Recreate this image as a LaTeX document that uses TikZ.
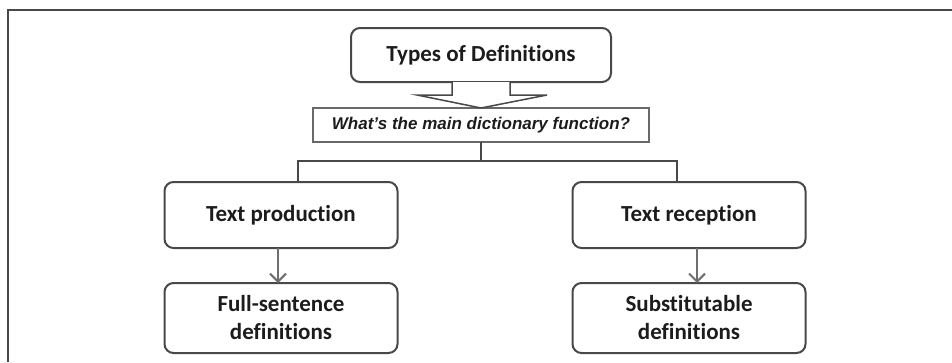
\documentclass[tikz,border=0pt]{standalone}
\usepackage{xcolor}
\usepackage{tikz}
\usepackage{fontspec}
\setmainfont[Ligatures=NoCommon]{Carlito}
\newfontfamily\askfont{Liberation Sans}
\definecolor{linegray}{RGB}{72,72,72}
\definecolor{arrowgray}{RGB}{110,110,110}
\definecolor{askgray}{RGB}{105,105,105}
\definecolor{textblack}{RGB}{28,28,28}
\usetikzlibrary{arrows.meta,positioning,calc}

\begin{document}
\begin{tikzpicture}[
    x=1pt, y=1pt,
    topbox/.style={rectangle, draw=linegray, line width=2pt, rounded corners=9pt, minimum width=260pt, minimum height=54pt, outer sep=0pt, text=textblack, font=\fontsize{23}{28}\selectfont\bfseries},
    askbox/.style={rectangle, draw=askgray, line width=1.3pt, minimum width=336pt, minimum height=34pt, outer sep=0pt, text=textblack, font=\askfont\fontsize{17}{20}\selectfont\bfseries\itshape},
    levelbox/.style={rectangle, draw=linegray, line width=2pt, rounded corners=9pt, minimum width=233pt, minimum height=66pt, outer sep=0pt, text=textblack, align=center, font=\fontsize{23}{28}\selectfont\bfseries},
    defbox/.style={levelbox, minimum height=70pt},
    hollow/.style={draw=linegray, line width=1.5pt, fill=white},
    link/.style={draw=linegray, line width=2pt},
    arrow/.style={-{Straight Barb[length=8pt,width=16pt]}, draw=arrowgray, line width=2pt},
    frame/.style={draw=linegray, line width=2.2pt}
]

\useasboundingbox (0,0) rectangle (952,-362);
\draw[frame] (8,-362) -- (8,-10) -- (952,-10);

\node[topbox] (types) at (481,-55) {Types of Definitions};
\node[askbox, below=26pt of types] (question) {What’s the main dictionary function?};

\node[levelbox, below=40pt of question, xshift=-200pt] (prod) {Text production};
\node[levelbox, below=40pt of question, xshift=208pt] (recep) {Text reception};

\node[defbox, below=35pt of prod] (full) {Full-sentence\\definitions};
\node[defbox, below=35pt of recep] (subst) {Substitutable\\definitions};

% big hollow arrow
\draw[hollow] ([xshift=-29pt]types.south) |- ([xshift=-64pt,yshift=13pt]question.north)
    -- (question.north) -- ([xshift=66pt,yshift=13pt]question.north) -| ([xshift=29pt]types.south);

\coordinate[below=19pt of question] (split);
\draw[link] (question.south) -- (split) -| ([xshift=17pt]prod.north);
\draw[link] (split) -| ([xshift=-12pt]recep.north);

\draw[arrow] ([xshift=-3pt]prod.south) -- ([xshift=-3pt]full.north);
\draw[arrow] ([xshift=8pt]recep.south) -- ([xshift=8pt]subst.north);

\end{tikzpicture}
\end{document}
